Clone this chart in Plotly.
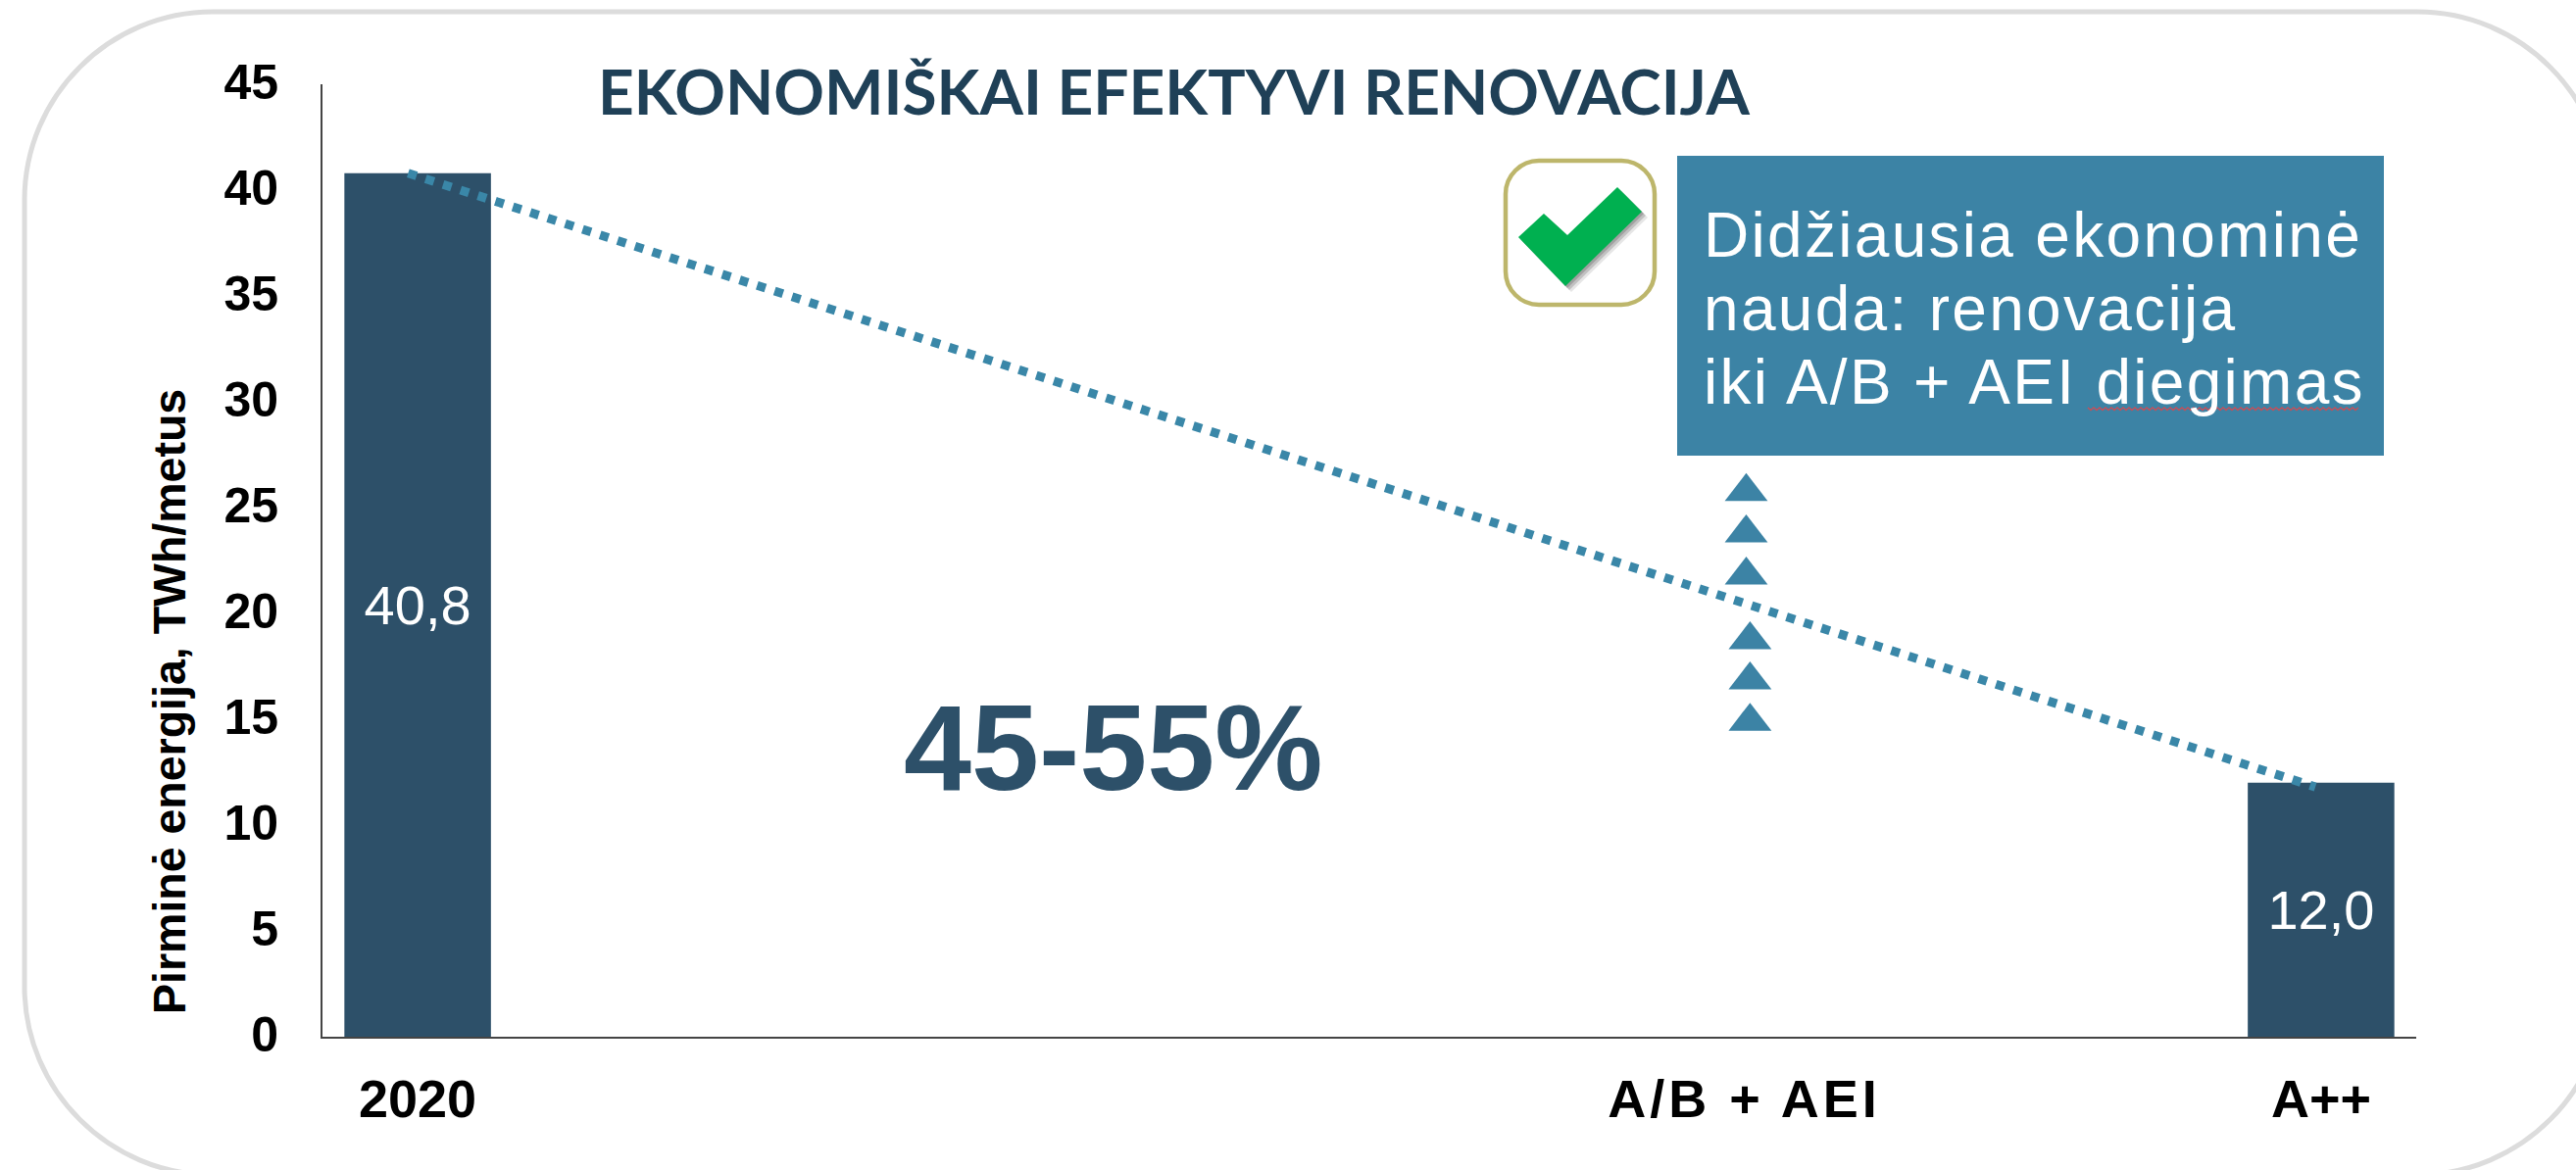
import plotly.graph_objects as go

W, H = 2628, 1194
L, R, T, B = 329, 2465, 86, 1058

# ---- data ----
bar_x = [0, 10]
bar_y = [40.8, 12.0]
bar_labels = ["40,8", "12,0"]
trend_x = [-0.05, 9.97]
trend_y = [40.8, 11.8]
arrow_x = [6.98, 6.98, 6.98, 7.0, 7.0, 7.0]
arrow_y = [25.75, 23.8, 21.8, 18.75, 16.85, 14.9]
x_ticks = [0, 6.97, 10]
x_tick_labels = ["2020", '<span style="letter-spacing:4px">A/B + AEI</span>', "A++"]
y_ticks = [0, 5, 10, 15, 20, 25, 30, 35, 40, 45]
title_text = "EKONOMIŠKAI EFEKTYVI RENOVACIJA"
y_title = "Pirminė energija, TWh/metus"
range_text = "45-55%"
box_lines = ["Didžiausia ekonominė", "nauda: renovacija", "iki A/B + AEI diegimas"]

DARK = "#2d5069"
TEAL = "#3c83a5"
BLACK_SANS = "Liberation Sans"


def px(x):
    return (x - L) / (R - L)


def py(y):
    return (B - y) / (B - T)


def poly(points, close=True):
    return "M " + " L ".join(f"{px(x):.5f},{py(y):.5f}" for x, y in points) + (" Z" if close else "")


def rrect(x0, y0, x1, y1, r):
    return (
        f"M {px(x0 + r):.5f},{py(y0):.5f} L {px(x1 - r):.5f},{py(y0):.5f} "
        f"C {px(x1 - r * .45):.5f},{py(y0):.5f} {px(x1):.5f},{py(y0 + r * .45):.5f} {px(x1):.5f},{py(y0 + r):.5f} "
        f"L {px(x1):.5f},{py(y1 - r):.5f} "
        f"C {px(x1):.5f},{py(y1 - r * .45):.5f} {px(x1 - r * .45):.5f},{py(y1):.5f} {px(x1 - r):.5f},{py(y1):.5f} "
        f"L {px(x0 + r):.5f},{py(y1):.5f} "
        f"C {px(x0 + r * .45):.5f},{py(y1):.5f} {px(x0):.5f},{py(y1 - r * .45):.5f} {px(x0):.5f},{py(y1 - r):.5f} "
        f"L {px(x0):.5f},{py(y0 + r):.5f} "
        f"C {px(x0):.5f},{py(y0 + r * .45):.5f} {px(x0 + r * .45):.5f},{py(y0):.5f} {px(x0 + r):.5f},{py(y0):.5f} Z"
    )


fig = go.Figure()
fig.add_bar(
    x=bar_x, y=bar_y, width=0.77,
    marker=dict(color=DARK, line_width=0),
    text=bar_labels, textposition="inside", insidetextanchor="middle", textangle=0,
    insidetextfont=dict(family=BLACK_SANS, size=56, color="white"),
    hoverinfo="skip", showlegend=False,
)
fig.add_scatter(
    x=trend_x, y=trend_y, mode="lines",
    line=dict(color="#3a87a8", width=9, dash="9px,9.7px"),
    hoverinfo="skip", showlegend=False,
)
fig.add_scatter(
    x=arrow_x, y=arrow_y, mode="markers",
    marker=dict(symbol="triangle-up", size=38, color=TEAL, line_width=0),
    hoverinfo="skip", showlegend=False,
)

check = [(1549, 242), (1575, 218), (1599, 240), (1650, 191), (1675, 216), (1597, 292)]
shapes = [
    dict(type="path", xref="paper", yref="paper", layer="below",
         path=rrect(25, 12, 2658, 1199, 192),
         line=dict(color="#dcdcdc", width=5), fillcolor="white"),
    dict(type="rect", xref="paper", yref="paper", layer="above",
         x0=px(1711), x1=px(2432), y0=py(465), y1=py(159),
         fillcolor=TEAL, line_width=0),
    dict(type="path", xref="paper", yref="paper", layer="above",
         path=rrect(1536, 164, 1688, 311, 34),
         fillcolor="white", line=dict(color="#bdb66b", width=4.5)),
]
for off, op in ((6, .15), (4, .25), (2, .3)):
    shapes.append(dict(type="path", xref="paper", yref="paper", layer="above",
                       path=poly([(x + off, y + off) for x, y in check]),
                       fillcolor="#555555", opacity=op, line_width=0))
shapes.append(dict(type="path", xref="paper", yref="paper", layer="above",
                   path=poly(check), fillcolor="#00b050", line_width=0))
# spell-check squiggle under the last word
squiggle = [(2130 + 3 * i, 416 + (i % 2) * 2.5) for i in range(93)]
shapes.append(dict(type="path", xref="paper", yref="paper", layer="above",
                   path=poly(squiggle, close=False),
                   line=dict(color="#c4505a", width=1.5)))


def note(text, x, y, size, color, family=BLACK_SANS, angle=0, anchor="center"):
    return dict(text=text, xref="paper", yref="paper", x=px(x), y=py(y),
                xanchor=anchor, yanchor="middle", showarrow=False, textangle=angle,
                font=dict(family=family, size=size, color=color))


def spaced(t):
    return f'<span style="letter-spacing:2.3px">{t}</span>'


annotations = [
    note(f"<b>{title_text}</b>", 1197, 92, 64, "#1f4057", family="Lato"),
    note(f"<b>{range_text}</b>", 1135, 763, 124, DARK),
    note(f"<b>{y_title}</b>", 173, 716, 46.5, "black", angle=-90),
    note(spaced(box_lines[0]), 1736, 240, 64, "white", anchor="left"),
    note(spaced(box_lines[1]), 1736, 315, 64, "white", anchor="left"),
    note(spaced(box_lines[2]), 1736, 390, 64, "white", anchor="left"),
]

fig.update_layout(
    width=W, height=H,
    margin=dict(l=L, r=W - R, t=T, b=H - B, autoexpand=False),
    paper_bgcolor="white", plot_bgcolor="rgba(0,0,0,0)",
    shapes=shapes, annotations=annotations, showlegend=False,
    xaxis=dict(range=[-0.5, 10.5], tickmode="array", tickvals=x_ticks, ticktext=x_tick_labels,
               showgrid=False, zeroline=False, ticks="", showline=True, linecolor="#444444", linewidth=2,
               ticklabelstandoff=15,
               tickfont=dict(family=BLACK_SANS, size=54, color="black", weight="bold")),
    yaxis=dict(range=[0, 45], tickmode="array", tickvals=y_ticks,
               showgrid=False, zeroline=False, ticks="", showline=True, linecolor="#444444", linewidth=2,
               ticklabelstandoff=33, ticklabelshift=-3,
               tickfont=dict(family=BLACK_SANS, size=50, color="black", weight="bold")),
)
fig.write_html("out.html", config={"displayModeBar": False},
               post_script="document.body.style.margin='0';")
